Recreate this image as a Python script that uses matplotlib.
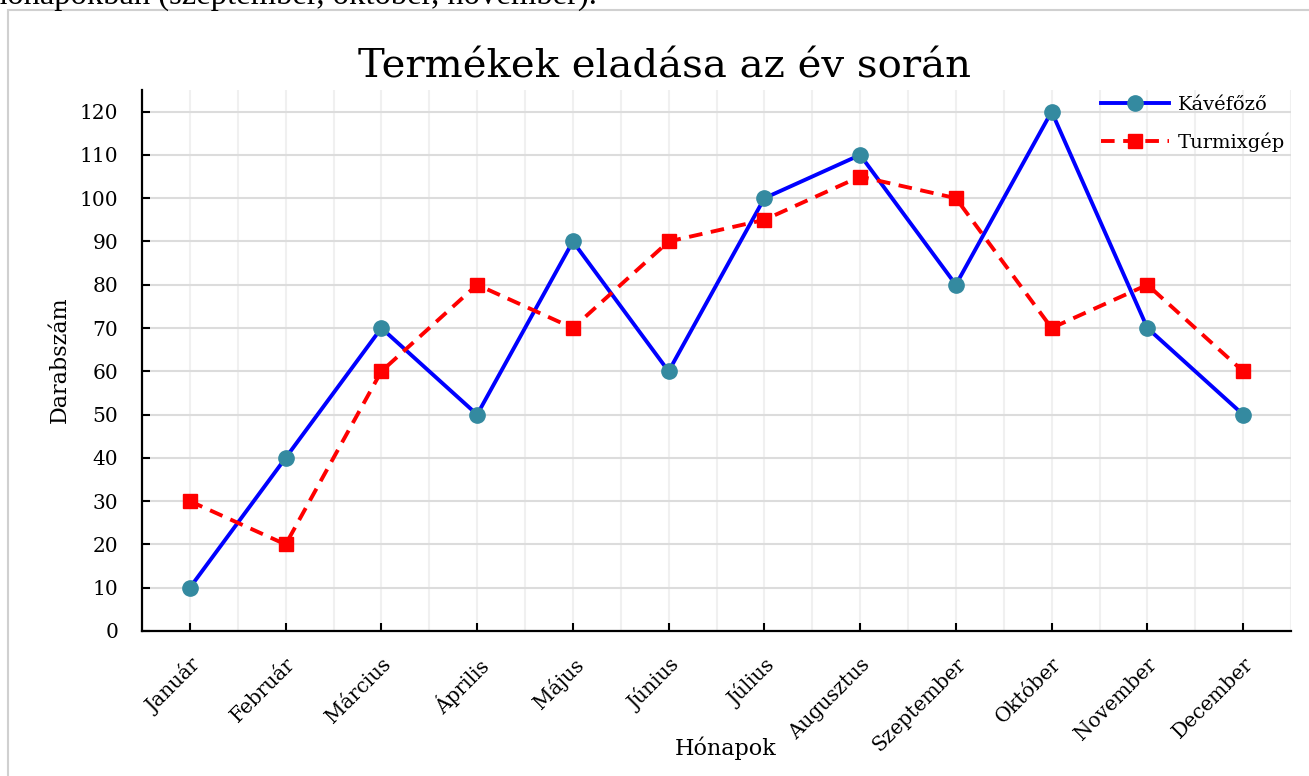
import numpy as np
import matplotlib.pyplot as plt
from matplotlib.ticker import MultipleLocator
from matplotlib.patches import Rectangle

# Adatok
honapok = ['Január', 'Február', 'Március', 'Április', 'Május', 'Június',
           'Július', 'Augusztus', 'Szeptember', 'Október', 'November', 'December']
kavefozo = [10, 40, 70, 50, 90, 60, 100, 110, 80, 120, 70, 50]
turmixgep = [30, 20, 60, 80, 70, 90, 95, 105, 100, 70, 80, 60]

plt.rcParams['font.family'] = ['DejaVu Serif']

fig = plt.figure(figsize=(13.09, 7.76), dpi=100)
ax = fig.add_axes([142/1309, 1 - 631/776, (1291-142)/1309, (631-90)/776])

# keret es a levagott szoveg a kep tetejen
fig.patches.append(Rectangle((8/1309, -0.1), 1.2, 1 - 10/776 + 0.1,
                             transform=fig.transFigure, fill=False,
                             edgecolor='#d0d0d0', linewidth=1.5))
fig.text(-0.007, 1 - 4/776, 'hónapokban (szeptember, október, november).',
         family='Liberation Serif', fontsize=23.5, va='baseline', ha='left')

x = np.arange(len(honapok))
ax.plot(x, kavefozo, color='#0000ff', linewidth=2.8, marker='o',
        markersize=11, markerfacecolor='#348aa0', markeredgecolor='#348aa0',
        label='Kávéfőző', zorder=3)
ax.plot(x, turmixgep, color='#ff0000', linewidth=2.8, linestyle=(0, (3.5, 2.2)),
        marker='s', markersize=10.5, markerfacecolor='#ff0000',
        markeredgecolor='#ff0000', label='Turmixgép', zorder=3)

ax.set_xlim(-0.5, 11.5)
ax.set_ylim(0, 125)
ax.set_xticks(x)
ax.set_xticklabels(honapok, rotation=45, ha='right', rotation_mode='anchor',
                   fontsize=14.5)
ax.xaxis.set_minor_locator(MultipleLocator(0.5))
ax.yaxis.set_major_locator(MultipleLocator(10))
ax.tick_params(axis='y', labelsize=14.5, length=6, width=1.5, direction='in', pad=17)
ax.tick_params(axis='x', which='major', length=6, width=1.5, direction='in', pad=17)
ax.tick_params(axis='x', which='minor', length=0)

ax.grid(axis='y', which='major', color='#dcdcdc', linewidth=1.5, zorder=0)
ax.grid(axis='x', which='both', color='#f0f0f0', linewidth=1.5, zorder=0)
ax.set_axisbelow(True)

for s in ['top', 'right']:
    ax.spines[s].set_visible(False)
for s in ['left', 'bottom']:
    ax.spines[s].set_linewidth(1.6)

fig.text(665/1309, 1 - 77/776, 'Termékek eladása az év során', fontsize=29,
         ha='center', va='baseline')
ax.set_xlabel('Hónapok', fontsize=16)
ax.xaxis.set_label_coords((726-142)/(1291-142), -(748-631)/(631-90))
ax.xaxis.label.set_va('center')
ax.set_ylabel('Darabszám', fontsize=16)
ax.yaxis.set_label_coords(-(142-60)/(1291-142), (631-360)/(631-90))
ax.yaxis.label.set_va('center')

ax.legend(loc='upper right', frameon=False, fontsize=14, handlelength=3.5,
          handletextpad=0.45, borderaxespad=0.0, bbox_to_anchor=(1.0, 1.0),
          labelspacing=0.95, borderpad=0.3)

fig.savefig('out.png', dpi=100)
